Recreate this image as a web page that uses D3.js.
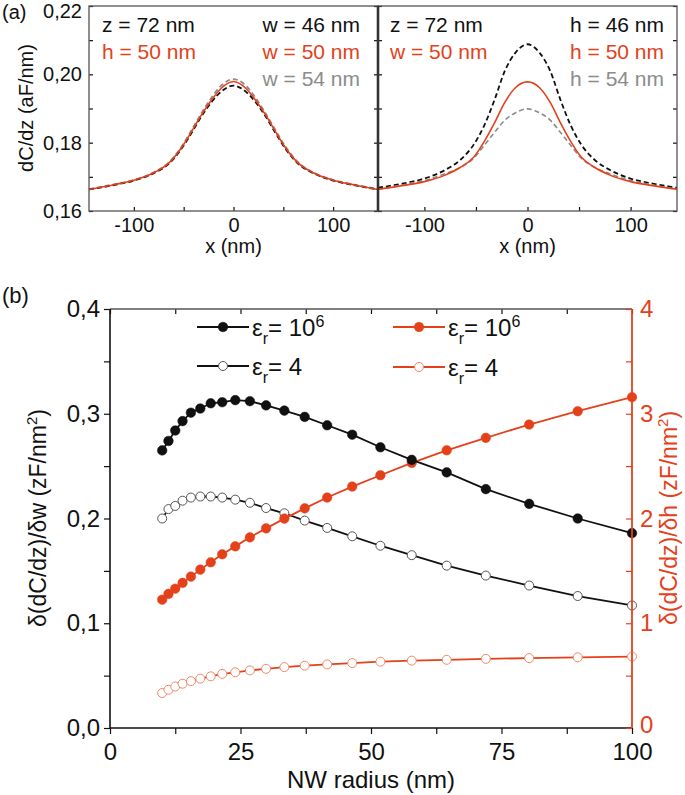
<!DOCTYPE html>
<html>
<head>
<meta charset="utf-8">
<script src="https://cdn.jsdelivr.net/npm/d3@7"></script>
<style>
  body { margin: 0; background: #fff; }
  text { font-family: "Liberation Sans", Arial, Helvetica, sans-serif; }
</style>
</head>
<body>
<svg id="chart" width="685" height="795"></svg>
<script>
var ORANGE = "#e4411b", GRAY = "#8c8c8c";

// ---- panel (a): dC/dz profiles across the wire ----
var profileX = [-145, -120, -100, -80, -65, -52, -42, -32, -22, -12, 0, 12, 22, 32, 42, 52, 65, 80, 100, 120, 145];
// left half: width varies, h = 50 nm
var w46 = [0.1663, 0.1676, 0.1689, 0.1711, 0.1738, 0.1783, 0.1829, 0.1878, 0.1919, 0.1950, 0.1967, 0.1950, 0.1919, 0.1878, 0.1829, 0.1783, 0.1738, 0.1711, 0.1689, 0.1676, 0.1663];
var w50 = [0.1663, 0.1677, 0.1690, 0.1712, 0.1740, 0.1786, 0.1833, 0.1882, 0.1925, 0.1960, 0.1979, 0.1960, 0.1925, 0.1882, 0.1833, 0.1786, 0.1740, 0.1712, 0.1690, 0.1677, 0.1663];
var w54 = [0.1664, 0.1678, 0.1691, 0.1713, 0.1742, 0.1789, 0.1837, 0.1887, 0.1932, 0.1968, 0.1986, 0.1968, 0.1932, 0.1887, 0.1837, 0.1789, 0.1742, 0.1713, 0.1691, 0.1678, 0.1664];
// right half: height varies, w = 50 nm
var h46 = [0.1668, 0.1681, 0.1695, 0.1720, 0.1750, 0.1795, 0.1850, 0.1925, 0.2010, 0.2062, 0.2088, 0.2062, 0.2010, 0.1925, 0.1850, 0.1795, 0.1750, 0.1720, 0.1695, 0.1681, 0.1668];
var h50 = [0.1664, 0.1675, 0.1686, 0.1705, 0.1728, 0.1758, 0.1803, 0.1858, 0.1918, 0.1960, 0.1978, 0.1960, 0.1918, 0.1858, 0.1803, 0.1758, 0.1728, 0.1705, 0.1686, 0.1675, 0.1664];
var h54 = [0.1663, 0.1677, 0.1689, 0.1709, 0.1728, 0.1755, 0.1792, 0.1830, 0.1866, 0.1887, 0.1899, 0.1887, 0.1866, 0.1830, 0.1792, 0.1755, 0.1728, 0.1709, 0.1689, 0.1677, 0.1663];

var aYTicks = [0.16, 0.17, 0.18, 0.19, 0.20, 0.21, 0.22];
var aYLabels = [0.16, 0.18, 0.20, 0.22];
var aXTicks = [-100, -50, 0, 50, 100];
var aXLabels = [-100, 0, 100];

// ---- panel (b): sensitivity vs NW radius ----
var radius = [10, 11.2, 12.5, 13.9, 15.5, 17.3, 19.3, 21.5, 24.0, 26.8, 29.9, 33.4, 37.3, 41.6, 46.4, 51.8, 57.8, 64.5, 72.0, 80.3, 89.6, 100];
var dwMetal = [0.265, 0.274, 0.284, 0.293, 0.301, 0.305, 0.310, 0.311, 0.313, 0.312, 0.308, 0.303, 0.297, 0.289, 0.280, 0.268, 0.256, 0.244, 0.228, 0.214, 0.200, 0.186];
var dwDiel  = [0.200, 0.209, 0.212, 0.217, 0.220, 0.221, 0.221, 0.220, 0.218, 0.215, 0.210, 0.205, 0.198, 0.191, 0.183, 0.174, 0.165, 0.155, 0.1455, 0.136, 0.126, 0.117];
var dhMetal = [1.225, 1.280, 1.330, 1.385, 1.445, 1.512, 1.582, 1.658, 1.734, 1.820, 1.906, 1.999, 2.097, 2.200, 2.305, 2.413, 2.531, 2.651, 2.770, 2.897, 3.024, 3.158];
var dhDiel  = [0.334, 0.365, 0.396, 0.423, 0.447, 0.471, 0.493, 0.517, 0.532, 0.550, 0.565, 0.581, 0.595, 0.607, 0.620, 0.633, 0.643, 0.651, 0.660, 0.667, 0.675, 0.682];

var bXTicks = [0, 12.5, 25, 37.5, 50, 62.5, 75, 87.5, 100];
var bXLabels = [0, 25, 50, 75, 100];
var bLTicks = [0, 0.05, 0.1, 0.15, 0.2, 0.25, 0.3, 0.35, 0.4];
var bLLabels = [0, 0.1, 0.2, 0.3, 0.4];
var bRTicks = [0, 0.5, 1, 1.5, 2, 2.5, 3, 3.5, 4];
var bRLabels = [0, 1, 2, 3, 4];

var svg = d3.select("#chart");

function comma(digits) {
  return function(d) { return d.toFixed(digits).replace(".", ","); };
}
function only(list, fmt) {
  return function(d) { return list.some(function(v){ return Math.abs(v - d) < 1e-9; }) ? fmt(d) : ""; };
}
function styleAxis(g, color, size) {
  g.select(".domain").remove();
  g.selectAll("line").attr("stroke", color).attr("stroke-width", 1.2);
  g.selectAll("text").attr("fill", color).style("font-size", size + "px")
    .style("font-family", "'Liberation Sans', Arial, sans-serif");
}

// ================= panel (a) =================
var yA = d3.scaleLinear().domain([0.16, 0.22]).range([211, 6]);
var xA1 = d3.scaleLinear().domain([-145, 145]).range([89, 378]);
var xA2 = d3.scaleLinear().domain([-145, 145]).range([378, 677]);

function profilePanel(x, curves, showY) {
  var g = svg.append("g");
  g.append("g").attr("transform", "translate(0,211)")
    .call(d3.axisBottom(x).tickValues(aXTicks).tickSize(-4).tickPadding(7)
      .tickFormat(only(aXLabels, function(d){ return String(d); })))
    .call(styleAxis, "#111", 20);
  var yl = g.append("g").attr("transform", "translate(" + x.range()[0] + ",0)")
    .call(d3.axisLeft(yA).tickValues(aYTicks).tickSize(-4).tickPadding(7)
      .tickFormat(showY ? only(aYLabels, comma(2)) : function(){ return ""; }))
    .call(styleAxis, "#111", 20);
  yl.selectAll("text").filter(function(d){ return d > 0.215; }).attr("y", 5);
  g.append("g").attr("transform", "translate(" + x.range()[1] + ",0)")
    .call(d3.axisRight(yA).tickValues(aYTicks).tickSize(-4).tickFormat(""))
    .call(styleAxis, "#111", 20);

  var line = d3.line().x(function(d){ return x(d[0]); }).y(function(d){ return yA(d[1]); })
    .curve(d3.curveMonotoneX);
  curves.forEach(function(c) {
    g.append("path")
      .datum(profileX.map(function(v, i){ return [v, c.values[i]]; }))
      .attr("d", line).attr("fill", "none")
      .attr("stroke", c.color).attr("stroke-width", c.width)
      .attr("stroke-dasharray", c.dash || null);
  });

  g.append("rect").attr("x", x.range()[0]).attr("y", 6)
    .attr("width", x.range()[1] - x.range()[0]).attr("height", 205)
    .attr("fill", "none").attr("stroke", "#555").attr("stroke-width", 1.3);

  g.append("text").attr("x", (x.range()[0] + x.range()[1]) / 2).attr("y", 253)
    .attr("text-anchor", "middle").style("font-size", "20px").attr("fill", "#111").text("x (nm)");
  return g;
}

profilePanel(xA1, [
  { values: w54, color: GRAY, width: 1.8, dash: "5,3" },
  { values: w46, color: "#111", width: 1.8, dash: "5,3" },
  { values: w50, color: ORANGE, width: 1.6 }
], true);
profilePanel(xA2, [
  { values: h46, color: "#111", width: 1.8, dash: "5,3" },
  { values: h54, color: GRAY, width: 1.6, dash: "5,3" },
  { values: h50, color: ORANGE, width: 1.6 }
], false);

// thick divider between the two halves
svg.append("line").attr("x1", 378).attr("x2", 378).attr("y1", 6).attr("y2", 211)
  .attr("stroke", "#333").attr("stroke-width", 2.6);

function note(x, y, anchor, color, txt) {
  svg.append("text").attr("x", x).attr("y", y).attr("text-anchor", anchor)
    .attr("fill", color).style("font-size", "21px").text(txt);
}
note(102, 32, "start", "#111", "z = 72 nm");
note(102, 59, "start", ORANGE, "h = 50 nm");
note(360, 32, "end", "#111", "w = 46 nm");
note(360, 59, "end", ORANGE, "w = 50 nm");
note(360, 86, "end", GRAY, "w = 54 nm");
note(390, 32, "start", "#111", "z = 72 nm");
note(390, 59, "start", ORANGE, "w = 50 nm");
note(664, 32, "end", "#111", "h = 46 nm");
note(664, 59, "end", ORANGE, "h = 50 nm");
note(664, 86, "end", GRAY, "h = 54 nm");

svg.append("text").attr("transform", "translate(33,108) rotate(-90)")
  .attr("text-anchor", "middle").style("font-size", "20px").attr("fill", "#111")
  .text("dC/dz (aF/nm)");
svg.append("text").attr("x", 2).attr("y", 19).style("font-size", "20px").attr("fill", "#111").text("(a)");

// ================= panel (b) =================
var xB = d3.scaleLinear().domain([0, 100]).range([110, 632]);
var yL = d3.scaleLinear().domain([0, 0.4]).range([728, 309]);
var yR = d3.scaleLinear().domain([0, 4]).range([728, 309]);

svg.append("g").attr("transform", "translate(0,728)")
  .call(d3.axisBottom(xB).tickValues(bXTicks).tickSize(6).tickPadding(9).tickFormat(only(bXLabels, String)))
  .call(styleAxis, "#111", 24);
svg.append("g").attr("transform", "translate(0,309)")
  .call(d3.axisTop(xB).tickValues(bXTicks).tickSize(-5).tickFormat(""))
  .call(styleAxis, "#111", 24);
svg.append("g").attr("transform", "translate(110,0)")
  .call(d3.axisLeft(yL).tickValues(bLTicks).tickSize(6).tickPadding(4).tickFormat(only(bLLabels, comma(1))))
  .call(styleAxis, "#111", 24);

var lineL = d3.line().x(function(d){ return xB(d[0]); }).y(function(d){ return yL(d[1]); });
var lineR = d3.line().x(function(d){ return xB(d[0]); }).y(function(d){ return yR(d[1]); });

function series(values, line, scale, color, stroke, fill) {
  var pts = radius.map(function(r, i){ return [r, values[i]]; });
  svg.append("path").datum(pts).attr("d", line).attr("fill", "none")
    .attr("stroke", color).attr("stroke-width", 1.8);
  svg.append("g").selectAll("circle").data(pts).enter().append("circle")
    .attr("cx", function(d){ return xB(d[0]); })
    .attr("cy", function(d){ return scale(d[1]); })
    .attr("r", fill ? 4.8 : 4.5)
    .attr("fill", fill || "#fff")
    .attr("stroke", stroke).attr("stroke-width", fill ? 0.5 : 1);
}
series(dhDiel, lineR, yR, ORANGE, "#ef8a68", null);
series(dwDiel, lineL, yL, "#111", "#555", null);
series(dhMetal, lineR, yR, ORANGE, ORANGE, ORANGE);
series(dwMetal, lineL, yL, "#111", "#111", "#111");

// frame lines
svg.append("line").attr("x1", 110).attr("x2", 632).attr("y1", 309).attr("y2", 309).attr("stroke", "#555").attr("stroke-width", 1.3);
svg.append("line").attr("x1", 110).attr("x2", 110).attr("y1", 309).attr("y2", 728).attr("stroke", "#111").attr("stroke-width", 1.6);
svg.append("line").attr("x1", 110).attr("x2", 632).attr("y1", 728).attr("y2", 728).attr("stroke", "#111").attr("stroke-width", 1.6);

var yr = svg.append("g").attr("transform", "translate(632,0)")
  .call(d3.axisRight(yR).tickValues(bRTicks).tickSize(-6).tickPadding(8).tickFormat(only(bRLabels, String)))
  .call(styleAxis, ORANGE, 24);
yr.selectAll("text").filter(function(d){ return d === 0; }).attr("y", -3);
svg.append("line").attr("x1", 632).attr("x2", 632).attr("y1", 309).attr("y2", 728)
  .attr("stroke", ORANGE).attr("stroke-width", 1.8);

// legend
function legendRow(x0, y, color, fill, stroke, power) {
  svg.append("line").attr("x1", x0).attr("x2", x0 + 52).attr("y1", y).attr("y2", y)
    .attr("stroke", color).attr("stroke-width", 1.8);
  svg.append("circle").attr("cx", x0 + 26).attr("cy", y).attr("r", fill ? 4.8 : 4.5)
    .attr("fill", fill || "#fff").attr("stroke", stroke).attr("stroke-width", fill ? 0.5 : 1);
  var t = svg.append("text").attr("x", x0 + 55).attr("y", y + 9).style("font-size", "24px").attr("fill", "#111");
  t.append("tspan").text("\u03b5");
  t.append("tspan").attr("dy", 8).style("font-size", "16px").text("r");
  t.append("tspan").attr("dy", -8).text("= " + (power ? "10" : "4"));
  if (power) t.append("tspan").attr("dy", -9).style("font-size", "16px").text(power);
}
legendRow(197, 327, "#111", "#111", "#111", "6");
legendRow(197, 366, "#111", null, "#555", null);
legendRow(393, 327, ORANGE, ORANGE, ORANGE, "6");
legendRow(393, 367, ORANGE, null, "#ef8a68", null);

// axis titles
svg.append("text").attr("x", 371).attr("y", 788).attr("text-anchor", "middle")
  .style("font-size", "24px").attr("fill", "#111").text("NW radius (nm)");

function rotTitle(x, color, letter) {
  var t = svg.append("text").attr("transform", "translate(" + x + ",518) rotate(-90)")
    .attr("text-anchor", "middle").style("font-size", "23px").attr("fill", color);
  t.append("tspan").text("\u03b4(dC/dz)/\u03b4" + letter + " (zF/nm");
  t.append("tspan").attr("dy", -9).style("font-size", "15px").text("2");
  t.append("tspan").attr("dy", 9).text(")");
}
rotTitle(46, "#111", "w");
rotTitle(677, ORANGE, "h");

svg.append("text").attr("x", 2).attr("y", 303).style("font-size", "22px").attr("fill", "#111").text("(b)");
</script>
</body>
</html>
